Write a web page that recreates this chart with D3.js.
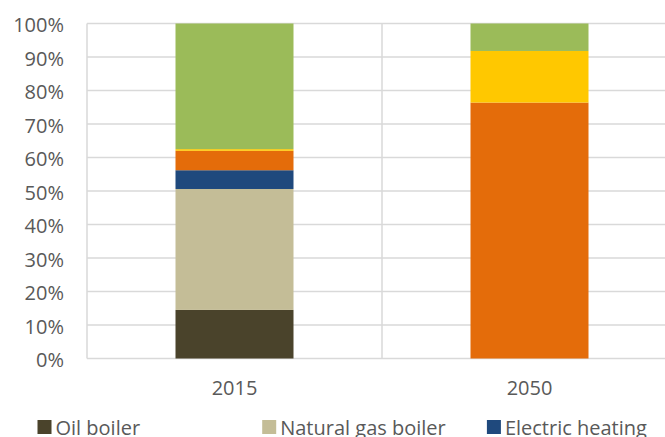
<!DOCTYPE html>
<html>
<head>
<meta charset="utf-8">
<script src="https://cdn.jsdelivr.net/npm/d3@7"></script>
<style>
	html, body { margin: 0; padding: 0; background: #fff; }
	svg text { font-family: "Open Sans", Lato, sans-serif; fill: #595959; }
</style>
</head>
<body>
<div id="chart"></div>
<script>
	'use strict';
	// data (share of heating, %)
	var years = ['2015', '2050'];
	var seriesNames = ['Oil boiler', 'Natural gas boiler', 'Electric heating', 'Heat pump', 'District heating', 'Biomass boiler'];
	var seriesColors = ['#4a432b', '#c4bd97', '#1f497d', '#e46c0a', '#ffc800', '#9bbb59'];
	var values2015 = [14.5, 36.1, 5.6, 5.8, 0.5, 37.5];
	var values2050 = [0, 0, 0, 76.4, 15.4, 8.2];
	var yTicks = [0, 10, 20, 30, 40, 50, 60, 70, 80, 90, 100];

	var width = 665, height = 437;
	var margin = {top: 23.5, right: -12, bottom: 78.5, left: 87};

	var rows = [values2015, values2050].map(function (vals, i) {
		var row = {year: years[i]};
		seriesNames.forEach(function (name, j) {
			row[name] = vals[j];
		});
		return row;
	});

	var stacked = d3.stack().keys(seriesNames)(rows);

	var svg = d3.select('#chart')
		.append('svg')
		.attr('width', width)
		.attr('height', height);

	var x = d3.scaleBand()
		.domain(years)
		.range([margin.left, width - margin.right])
		.paddingInner(0)
		.paddingOuter(0);

	var y = d3.scaleLinear()
		.domain([0, 100])
		.range([height - margin.bottom, margin.top]);

	// horizontal gridlines
	svg.append('g')
		.selectAll('line')
		.data(yTicks)
		.enter()
		.append('line')
		.attr('x1', margin.left)
		.attr('x2', width)
		.attr('y1', function (d) { return y(d); })
		.attr('y2', function (d) { return y(d); })
		.attr('stroke', '#d9d9d9')
		.attr('stroke-width', 1.5);

	// vertical gridlines at category boundaries
	var bounds = years.map(function (d) { return x(d); });
	svg.append('g')
		.selectAll('line')
		.data(bounds)
		.enter()
		.append('line')
		.attr('x1', function (d) { return d; })
		.attr('x2', function (d) { return d; })
		.attr('y1', y(0))
		.attr('y2', y(100))
		.attr('stroke', '#d9d9d9')
		.attr('stroke-width', 1.5);

	// bars
	var barW = x.bandwidth() * 0.4;
	svg.append('g')
		.selectAll('g')
		.data(stacked)
		.enter()
		.append('g')
		.attr('fill', function (d, i) { return seriesColors[i]; })
		.selectAll('rect')
		.data(function (d) { return d; })
		.enter()
		.append('rect')
		.attr('x', function (d) { return x(d.data.year) + (x.bandwidth() - barW) / 2; })
		.attr('width', barW)
		.attr('y', function (d) { return y(d[1]); })
		.attr('height', function (d) { return y(d[0]) - y(d[1]); });

	// y axis labels
	var yAxis = svg.append('g')
		.attr('transform', 'translate(' + margin.left + ',0)')
		.call(d3.axisLeft(y).tickValues(yTicks).tickSize(0).tickPadding(23)
			.tickFormat(function (d) { return d + '%'; }));
	yAxis.select('.domain').remove();
	yAxis.selectAll('text')
		.attr('dy', '0.41em')
		.style('font-size', '20px')
		.attr('fill', '#595959')
		.style('font-family', '"Open Sans", Lato, sans-serif');

	// x axis labels
	var xAxis = svg.append('g')
		.attr('transform', 'translate(0,' + y(0) + ')')
		.call(d3.axisBottom(x).tickSize(0).tickPadding(22));
	xAxis.select('.domain').remove();
	xAxis.selectAll('text')
		.style('font-size', '20px')
		.attr('fill', '#595959')
		.style('font-family', '"Open Sans", Lato, sans-serif');

	// legend, 3 per row, second row falls below the visible area
	var legend = svg.append('g')
		.selectAll('g')
		.data(seriesNames)
		.enter()
		.append('g')
		.attr('transform', function (d, i) {
			return 'translate(' + (37.5 + (i % 3) * 224.7) + ',' + (420 + Math.floor(i / 3) * 30) + ')';
		});
	legend.append('rect')
		.attr('width', 14)
		.attr('height', 14)
		.attr('fill', function (d, i) { return seriesColors[i]; });
	legend.append('text')
		.attr('x', 18)
		.attr('y', 14.5)
		.style('font-size', '20px')
		.text(function (d) { return d; });
</script>
</body>
</html>
